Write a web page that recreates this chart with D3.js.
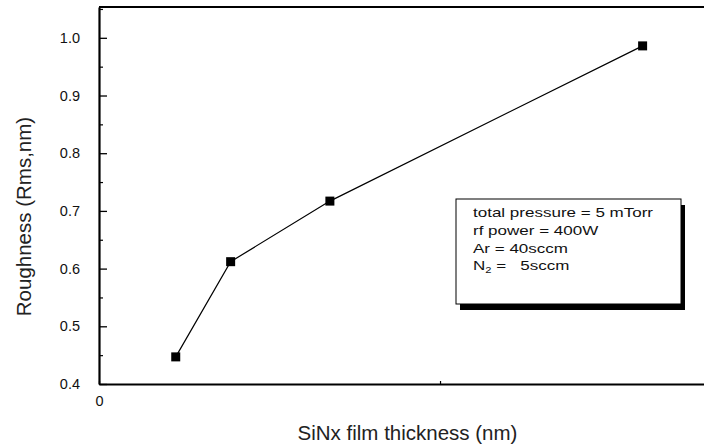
<!DOCTYPE html>
<html>
<head>
<meta charset="utf-8">
<script src="https://cdn.jsdelivr.net/npm/d3@7/dist/d3.min.js"></script>
<style>
  html, body { margin: 0; padding: 0; background: #fff; }
  svg { display: block; font-family: "Liberation Sans", Arial, Helvetica, sans-serif; }
</style>
</head>
<body>
<svg id="chart" width="704" height="447"></svg>
<script>
// ---- data ----
const thickness = [22.5, 38.6, 67.7, 159.4];        // SiNx film thickness (nm)
const roughness = [0.447, 0.612, 0.717, 0.986];     // Rms roughness (nm)
const yTicks = [0.4, 0.5, 0.6, 0.7, 0.8, 0.9, 1.0];
const yMinorTicks = [0.45, 0.55, 0.65, 0.75, 0.85, 0.95, 1.05];
const xTicks = [0, 100];
const xTickLabels = ["0", ""];
const legendLines = ["total pressure = 5 mTorr", "rf power = 400W", "Ar = 40sccm"];

const svg = d3.select("#chart");
const pLeft = 99, pRight = 704, pTop = 7, pBottom = 384;

const x = d3.scaleLinear().domain([0, 177.4]).range([pLeft, pRight]);
const y = d3.scaleLinear().domain([0.4, 1.0534]).range([pBottom, pTop]);

// frame top line
svg.append("line").attr("x1", pLeft).attr("x2", pRight).attr("y1", pTop).attr("y2", pTop)
  .attr("stroke", "#000").attr("stroke-width", 1.8);

// y axis
const yAxis = d3.axisLeft(y).tickValues(yTicks).tickFormat(d3.format(".1f"))
  .tickSizeInner(-8).tickSizeOuter(0).tickPadding(19);
const gy = svg.append("g").attr("transform", `translate(${pLeft},0)`).call(yAxis);
gy.select(".domain").attr("stroke-width", 2.2);
gy.selectAll(".tick line").attr("stroke-width", 1.3);
gy.selectAll(".tick text").attr("font-size", 14.5).attr("fill", "#111");
const yMinor = d3.axisLeft(y).tickValues(yMinorTicks).tickFormat("").tickSizeInner(-4).tickSizeOuter(0);
const gym = svg.append("g").attr("transform", `translate(${pLeft},0)`).call(yMinor);
gym.select(".domain").remove();
gym.selectAll(".tick line").attr("stroke-width", 1.2);

// x axis
const xAxis = d3.axisBottom(x).tickValues(xTicks).tickFormat((d, i) => xTickLabels[i])
  .tickSizeInner(-3).tickSizeOuter(0).tickPadding(12);
const gx = svg.append("g").attr("transform", `translate(0,${pBottom})`).call(xAxis);
gx.select(".domain").attr("stroke-width", 2.2);
gx.selectAll(".tick line").attr("stroke-width", 1.2);
gx.selectAll(".tick text").attr("font-size", 14.5).attr("fill", "#111");

// axis titles
svg.append("text").attr("x", 407.5).attr("y", 440).attr("text-anchor", "middle")
  .attr("font-size", 20.5).attr("fill", "#222").text("SiNx film thickness (nm)");
svg.append("text").attr("transform", "translate(31,216.5) rotate(-90)")
  .attr("text-anchor", "middle").attr("font-size", 20.5).attr("fill", "#222")
  .text("Roughness (Rms,nm)");

// data line + markers
const pts = thickness.map((t, i) => [t, roughness[i]]);
svg.append("path").datum(pts)
  .attr("d", d3.line().x(d => x(d[0])).y(d => y(d[1])))
  .attr("fill", "none").attr("stroke", "#000").attr("stroke-width", 1.2);
const ms = 9;
svg.selectAll("rect.pt").data(pts).join("rect").attr("class", "pt")
  .attr("x", d => x(d[0]) - ms / 2).attr("y", d => y(d[1]) - ms / 2)
  .attr("width", ms).attr("height", ms).attr("fill", "#000");

// legend box with shadow
const bx = 456, by = 199, bw = 225, bh = 105;
svg.append("rect").attr("x", bx + 4).attr("y", by + 6).attr("width", bw).attr("height", bh).attr("fill", "#000");
svg.append("rect").attr("x", bx).attr("y", by).attr("width", bw).attr("height", bh)
  .attr("fill", "#fff").attr("stroke", "#000").attr("stroke-width", 1);
const lg = svg.append("g");
legendLines.forEach((s, i) => {
  lg.append("text").attr("transform", `translate(473,${217 + i * 17.8}) scale(1.31,1)`)
    .attr("font-size", 13).attr("fill", "#111").text(s);
});
const n2 = lg.append("text").attr("transform", `translate(473,${217 + 3 * 17.8}) scale(1.31,1)`)
  .attr("font-size", 13).attr("fill", "#111");
n2.append("tspan").text("N");
n2.append("tspan").attr("font-size", 8.5).attr("dy", 3).text("2");
n2.append("tspan").attr("dy", -3).attr("xml:space", "preserve").text(" =   5sccm");
</script>
</body>
</html>
